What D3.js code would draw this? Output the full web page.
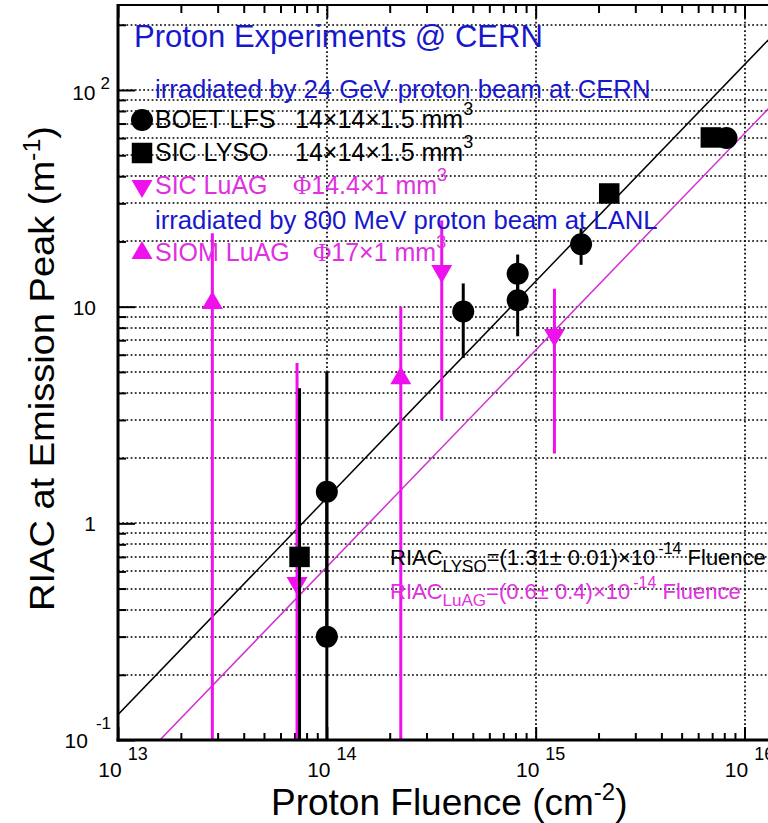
<!DOCTYPE html>
<html lang="en">
<head>
<meta charset="UTF-8">
<title>RIAC vs proton fluence</title>
<style>
  html, body { margin: 0; padding: 0; background: #fff; overflow: hidden; }
  svg { display: block; font-family: "Liberation Sans", Arial, sans-serif; }
</style>
</head>
<body>
<svg id="chart" width="768" height="823"></svg>

<script src="https://cdn.jsdelivr.net/npm/d3@7"></script>
<script>
// ---- data ----
// BOET LFS (24 GeV, CERN)
const boetFluence = [1e14, 1e14, 4.5e14, 8.2e14, 8.2e14, 1.65e15, 8.2e15];
const boetRiac    = [1.4, 0.30, 9.5, 14.2, 10.7, 19.4, 60];
const boetLow     = [0.3, 0.05, 5.8, 10.7, 7.3, 15.6, 60];
const boetHigh    = [5.0, 1.4, 12.8, 17.4, 14.2, 23, 60];
// SIC LYSO
const lysoFluence = [7.4e13, 2.25e15, 6.9e15];
const lysoRiac    = [0.70, 33.3, 60.4];
const lysoLow     = [0.05, 33.3, 60.4];
const lysoHigh    = [4.2, 33.3, 60.4];
// SIC LuAG (downward triangles)
const sicLuagFluence = [7.2e13, 3.55e14, 1.23e15];
const sicLuagRiac    = [0.53, 14.6, 7.4];
const sicLuagLow     = [0.05, 3.0, 2.1];
const sicLuagHigh    = [5.5, 25, 12.1];
// SIOM LuAG (800 MeV, LANL)
const siomFluence = [2.83e13, 2.26e14];
const siomRiac    = [10.4, 4.67];
const siomLow     = [0.05, 0.05];
const siomHigh    = [21.8, 10.0];
// fitted slopes, RIAC = k * fluence
const fitLyso = 1.31e-14;
const fitLuag = 0.63e-14;

const xTicks = [1e13, 1e14, 1e15, 1e16];
const xTickExp = ["13", "14", "15", "16"];
const yTicks = [0.1, 1, 10, 100];
const yTickBase = ["10", "1", "10", "10"];
const yTickExp = ["-1", "", "", "2"];

// ---- layout ----
const svg = d3.select("#chart");
const pLeft = 118, pRight = 800, pTop = 5, pBottom = 740;

const x = d3.scaleLog().domain([1e13, 1e16]).range([pLeft, 744.5]);
const y = d3.scaleLog().domain([0.1, 100]).range([pBottom, 90]);
const xMax = x.invert(pRight), yMax = y.invert(pTop);

const BLUE = "#1717cc", MAG = "#ee11ee", MAGTXT = "#e030e0", MAGLINE = "#d030d0";

// minor tick values (2..9 x decade)
function minors(lo, hi) {
  const out = [];
  for (let e = Math.floor(Math.log10(lo)); e <= Math.ceil(Math.log10(hi)); e++) {
    for (let m = 1; m < 10; m++) {
      const v = m * Math.pow(10, e);
      if (v >= lo * 0.999 && v <= hi) out.push(v);
    }
  }
  return out;
}
const yAll = minors(0.1, yMax);
const xAll = minors(1e13, xMax);

svg.append("defs").append("clipPath").attr("id", "plot")
  .append("rect").attr("x", pLeft).attr("y", pTop).attr("width", pRight - pLeft).attr("height", pBottom - pTop);

// dotted grid
const grid = svg.append("g").attr("stroke", "#000").attr("stroke-width", 1.7)
  .attr("stroke-dasharray", "1.8,2.4");
grid.selectAll("line.h").data(yAll.filter(v => v > 0.1)).join("line")
  .attr("x1", pLeft).attr("x2", pRight)
  .attr("y1", d => Math.round(y(d))).attr("y2", d => Math.round(y(d)));
grid.selectAll("line.v").data(xTicks.slice(1)).join("line")
  .attr("y1", pTop).attr("y2", pBottom)
  .attr("x1", d => Math.round(x(d))).attr("x2", d => Math.round(x(d)));

// axes ticks (inward)
function tickAxis(axis, vals, size, tr) {
  const g = svg.append("g").attr("transform", tr)
    .call(axis.tickValues(vals).tickSize(size).tickFormat(""));
  g.select(".domain").remove();
  g.selectAll(".tick line").attr("stroke", "#000").attr("stroke-width", 2);
}
const yMinor = yAll.filter(v => !yTicks.includes(v));
const xMinor = xAll.filter(v => !xTicks.includes(v));
tickAxis(d3.axisLeft(y), yTicks, -17, `translate(${pLeft},0)`);
tickAxis(d3.axisLeft(y), yMinor, -8, `translate(${pLeft},0)`);
tickAxis(d3.axisBottom(x), xTicks, -13, `translate(0,${pBottom})`);
tickAxis(d3.axisBottom(x), xMinor, -7, `translate(0,${pBottom})`);
tickAxis(d3.axisTop(x), xTicks, -13, `translate(0,${pTop})`);
tickAxis(d3.axisTop(x), xMinor, -8, `translate(0,${pTop})`);

// fit lines
const plot = svg.append("g").attr("clip-path", "url(#plot)");
const fitLine = d3.line().x(d => x(d[0])).y(d => y(d[1]));
const fitX = [1e12, 1e17];
plot.append("path").attr("d", fitLine(fitX.map(f => [f, f * fitLyso])))
  .attr("fill", "none").attr("stroke", "#000").attr("stroke-width", 1.5);
plot.append("path").attr("d", fitLine(fitX.map(f => [f, f * fitLuag])))
  .attr("fill", "none").attr("stroke", MAGLINE).attr("stroke-width", 1.5);

// series with error bars
function series(fl, val, lo, hi, color, symbol, rot) {
  const rows = fl.map((f, i) => ({ f, v: val[i], lo: lo[i], hi: hi[i] }));
  plot.append("g").selectAll("line").data(rows).join("line")
    .attr("x1", d => x(d.f)).attr("x2", d => x(d.f))
    .attr("y1", d => y(d.lo)).attr("y2", d => y(d.hi))
    .attr("stroke", color).attr("stroke-width", 3);
  plot.append("g").selectAll("path").data(rows).join("path")
    .attr("d", symbol)
    .attr("transform", d => `translate(${x(d.f)},${y(d.v)}) rotate(${rot})`)
    .attr("fill", color);
}
const circ = d3.symbol(d3.symbolCircle, 380)();
const sq = d3.symbol(d3.symbolSquare, 420)();
const tri = d3.symbol(d3.symbolTriangle, 190)();
series(sicLuagFluence, sicLuagRiac, sicLuagLow, sicLuagHigh, MAG, tri, 180);
series(siomFluence, siomRiac, siomLow, siomHigh, MAG, tri, 0);
series(lysoFluence, lysoRiac, lysoLow, lysoHigh, "#000", sq, 0);
series(boetFluence, boetRiac, boetLow, boetHigh, "#000", circ, 0);

// frame
svg.append("line").attr("x1", pLeft).attr("x2", pLeft).attr("y1", pTop - 1).attr("y2", pBottom + 1.5)
  .attr("stroke", "#000").attr("stroke-width", 3);
svg.append("line").attr("x1", pLeft - 1.5).attr("x2", pRight).attr("y1", pBottom).attr("y2", pBottom)
  .attr("stroke", "#000").attr("stroke-width", 3);
svg.append("line").attr("x1", pLeft).attr("x2", pRight).attr("y1", pTop).attr("y2", pTop)
  .attr("stroke", "#000").attr("stroke-width", 2);

// tick labels
yTicks.forEach((v, i) => {
  const t = svg.append("text").attr("font-size", 21).attr("fill", "#000").attr("text-anchor", "end");
  if (yTickExp[i]) {
    const lowEdge = v === yTicks[0];
    t.attr("x", lowEdge ? 111 : 110).attr("y", y(v) + (lowEdge ? 8 : 10));
    t.append("tspan").text(yTickBase[i]);
    t.append("tspan").attr("dx", lowEdge ? 8 : 5).attr("dy", lowEdge ? -19 : -11)
      .attr("font-size", 17).text(yTickExp[i]);
  } else {
    t.attr("x", 96).attr("y", y(v) + 8).text(yTickBase[i]);
  }
});
xTicks.forEach((v, i) => {
  const t = svg.append("text").attr("font-size", 21).attr("fill", "#000")
    .attr("text-anchor", "middle").attr("x", x(v) + 5).attr("y", 777);
  t.append("tspan").text("10");
  t.append("tspan").attr("dx", 6).attr("dy", -17).attr("font-size", 18).text(xTickExp[i]);
});

// axis titles
const xt = svg.append("text").attr("x", 271).attr("y", 815).attr("font-size", 37);
xt.append("tspan").text("Proton Fluence (cm");
xt.append("tspan").attr("dy", -15).attr("font-size", 24).text("-2");
xt.append("tspan").attr("dy", 15).text(")");

const yt = svg.append("text").attr("transform", "translate(54,611) rotate(-90)")
  .attr("font-size", 35).attr("textLength", 485).attr("lengthAdjust", "spacingAndGlyphs");
yt.append("tspan").text("RIAC at Emission Peak (m");
yt.append("tspan").attr("dy", -14).attr("font-size", 23).text("-1");
yt.append("tspan").attr("dy", 14).text(")");

// legend / annotations
const note = (tx, ty, size, color, str) =>
  svg.append("text").attr("x", tx).attr("y", ty).attr("font-size", size).attr("fill", color).text(str);

note(134, 47, 31, BLUE, "Proton Experiments @ CERN");
note(155, 98, 25.7, BLUE, "irradiated by 24 GeV proton beam at CERN");
note(155, 229, 25.7, BLUE, "irradiated by 800 MeV proton beam at LANL");

const legRows = [
  { y: 128, sym: circ, rot: 0, color: "#000", tcol: "#000", name: "BOET LFS", phi: "", dim: "14×14×1.5 mm", dx: 295 },
  { y: 161, sym: sq, rot: 0, color: "#000", tcol: "#000", name: "SIC LYSO", phi: "", dim: "14×14×1.5 mm", dx: 295 },
  { y: 194, sym: tri, rot: 180, color: MAG, tcol: MAGTXT, name: "SIC LuAG", phi: "Φ", dim: "14.4×1 mm", dx: 293 },
  { y: 261, sym: tri, rot: 0, color: MAG, tcol: MAGTXT, name: "SIOM LuAG", phi: "Φ", dim: "17×1 mm", dx: 313 }
];
legRows.forEach(r => {
  svg.append("path").attr("d", r.sym).attr("fill", r.color)
    .attr("transform", `translate(142,${r.y - 8}) rotate(${r.rot})`);
  note(155, r.y, 25, r.tcol, r.name);
  const t = svg.append("text").attr("x", r.dx).attr("y", r.y).attr("font-size", 25).attr("fill", r.tcol);
  if (r.phi) t.append("tspan").attr("font-family", "Liberation Serif").text(r.phi);
  t.append("tspan").text(r.dim);
  t.append("tspan").attr("dy", -13).attr("font-size", 18).text("3");
});

// fit formulas
function formula(ty, color, sub, body) {
  const t = svg.append("text").attr("x", 390).attr("y", ty).attr("font-size", 22).attr("fill", color);
  t.append("tspan").text("RIAC");
  t.append("tspan").attr("dy", 7).attr("font-size", 17).text(sub);
  t.append("tspan").attr("dy", -7).text(body);
  t.append("tspan").attr("dx", 3).attr("dy", -11).attr("font-size", 16).text("-14");
  t.append("tspan").attr("dy", 11).text(" Fluence");
}
formula(565, "#000", "LYSO", "=(1.31± 0.01)×10");
formula(599, MAGTXT, "LuAG", "=(0.6± 0.4)×10");
</script>
</body>
</html>
